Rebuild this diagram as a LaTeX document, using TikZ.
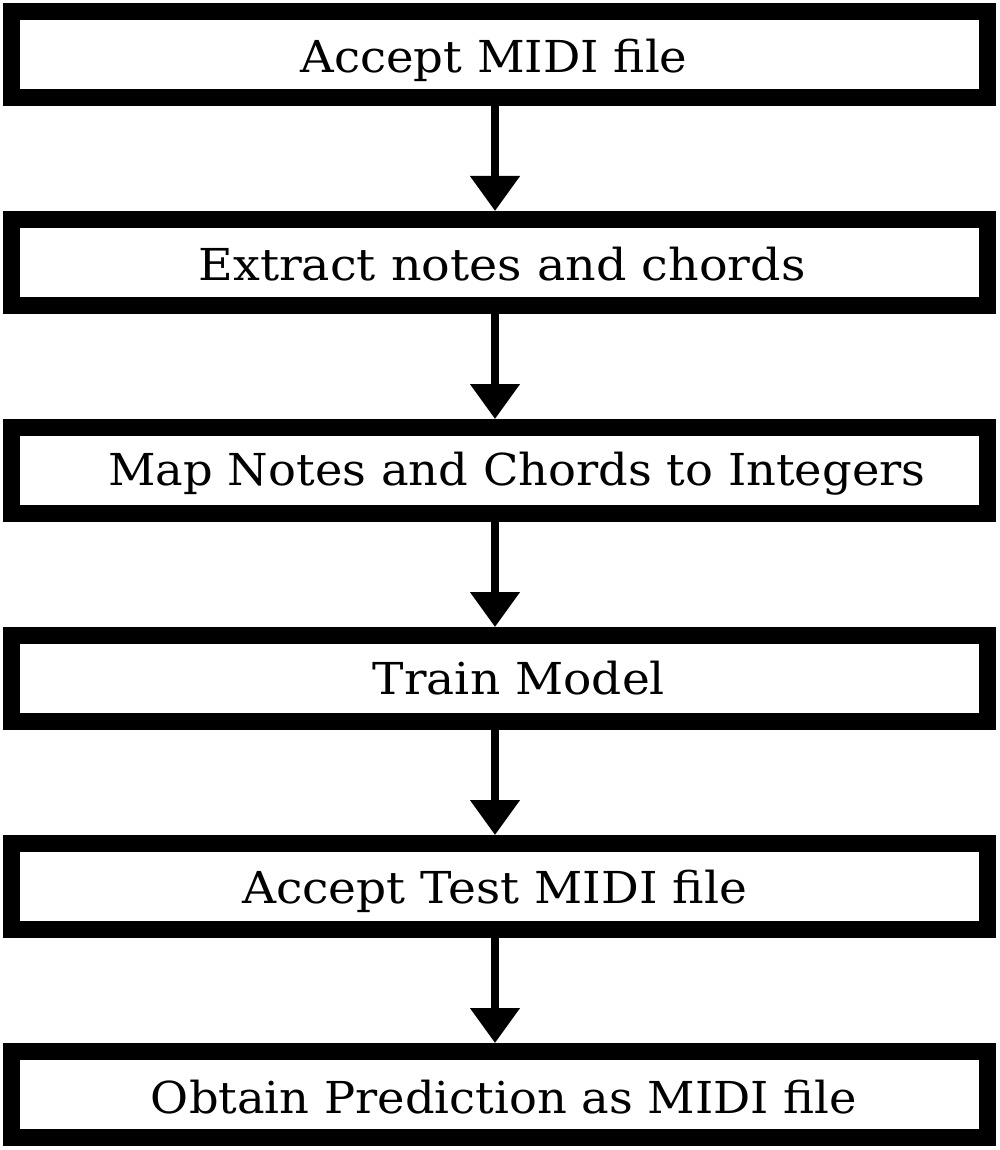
\documentclass[tikz,border=0pt]{standalone}
\usepackage{fontspec}
\setmainfont{DejaVu Serif}
\usetikzlibrary{arrows.meta}
\newcommand{\fitto}[2]{\resizebox{#1}{\height}{#2}}
\tikzset{
  stepbox/.style={draw=black, line width=17pt, minimum width=976pt, minimum height=86pt, inner sep=0pt, fill=white},
  steptext/.style={anchor=base, inner sep=0pt, font=\fontsize{44pt}{48pt}\selectfont},
  flow/.style={line width=8pt, -{Triangle[width=48pt,length=35pt]}}
}
\begin{document}
\begin{tikzpicture}[x=1pt,y=-1pt]
\useasboundingbox (0,0) rectangle (1000,1150);
\fill[white] (0,0) rectangle (1000,1150);
\node[stepbox] (b1) at (499.5,54.5) {};
\node[stepbox] (b2) at (499.5,262.5) {};
\node[stepbox] (b3) at (499.5,470.5) {};
\node[stepbox] (b4) at (499.5,678.5) {};
\node[stepbox] (b5) at (499.5,886.5) {};
\node[stepbox] (b6) at (499.5,1094.5) {};
\node[steptext] (t1) at (494,72.7) {\fitto{387pt}{Accept MIDI file}};
\node[steptext] (t2) at (502,280) {\fitto{607pt}{Extract notes and chords}};
\node[steptext] (t3) at (517,485) {\fitto{817pt}{Map Notes and Chords to Integers}};
\node[steptext] (t4) at (519,694) {\fitto{292pt}{Train Model}};
\node[steptext] (t5) at (494.5,903) {\fitto{505pt}{Accept Test MIDI file}};
\node[steptext] (t6) at (504,1113) {\fitto{706pt}{Obtain Prediction as MIDI file}};
\foreach \a/\b in {b1/b2,b2/b3,b3/b4,b4/b5,b5/b6}
  \draw[flow] ([xshift=-4.5pt]\a.south) -- ([xshift=-4.5pt]\b.north);
\end{tikzpicture}
\end{document}
